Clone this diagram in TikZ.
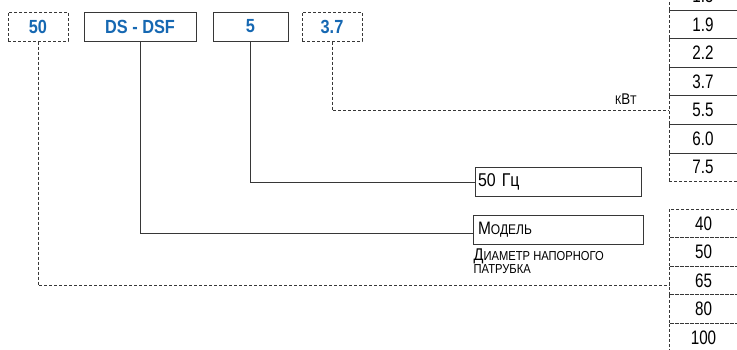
\documentclass[tikz,border=0pt]{standalone}
\usepackage{fontspec}
\setmainfont{Liberation Sans}
\newfontfamily\narrowsans[FakeStretch=0.86]{Liberation Sans}
\newfontfamily\condsans[FakeStretch=0.78]{Liberation Sans}
\usetikzlibrary{positioning}
\definecolor{codeblue}{RGB}{22,104,178}
\definecolor{linegray}{RGB}{55,55,55}
\newcommand{\bigsmall}[4]{{\fontsize{#1}{#1}\selectfont #2}{\fontsize{#3}{#3}\selectfont #4}}

\begin{document}
\begin{tikzpicture}[x=1pt,y=-1pt,
    codebox/.style={draw=linegray,line width=1pt,minimum height=29pt,inner sep=0pt,
      text=codeblue,font=\narrowsans\bfseries\fontsize{19}{19}\selectfont},
    optbox/.style={codebox,dash pattern=on 3pt off 2pt},
    rowbox/.style={draw=linegray,line width=0.9pt,dash pattern=on 3pt off 2pt,
      minimum width=68pt,minimum height=28.6pt,inner sep=0pt,outer sep=0pt,
      font=\condsans\fontsize{19.5}{19.5}\selectfont},
    descbox/.style={draw=linegray,line width=1pt,minimum width=166pt,minimum height=29pt,
      text width=160pt,align=left,inner xsep=2pt,inner ysep=0pt},
    link/.style={draw=linegray,line width=0.9pt},
    dlink/.style={link,dash pattern=on 3pt off 2pt}]
  \useasboundingbox (0,0) rectangle (737,349);
  \clip (0,0) rectangle (737,349);
  % code boxes
  \node[optbox,minimum width=60pt] (d50) at (38,26.5) {50};
  \node[codebox,minimum width=112pt] (dsf) at (140,26.5) {DS - DSF};
  \node[codebox,minimum width=75pt] (five) at (250.5,26.5) {5};
  \node[optbox,minimum width=60pt] (d37) at (332,26.5) {3.7};
  % power column
  \node[rowbox] (r15) at (703,-4.3) {1.5};
  \node[rowbox,below=0pt of r15] (r19) {1.9};
  \node[rowbox,below=0pt of r19] (r22) {2.2};
  \node[rowbox,below=0pt of r22] (r37) {3.7};
  \node[rowbox,below=0pt of r37] (r55) {5.5};
  \node[rowbox,below=0pt of r55] (r60) {6.0};
  \node[rowbox,below=0pt of r60] (r75) {7.5};
  % diameter column
  \node[rowbox] (r40) at (703.5,223.3) {40};
  \node[rowbox,below=0pt of r40] (r50) {50};
  \node[rowbox,below=0pt of r50] (r65) {65};
  \node[rowbox,below=0pt of r65] (r80) {80};
  \node[rowbox,below=0pt of r80] (r100) {100};
  % descriptions
  \node[descbox,font=\narrowsans\fontsize{18.5}{18.5}\selectfont] (hz) at (558,182) {50 Гц};
  \node[descbox,inner xsep=5pt,font=\narrowsans] (model) at (558,229.5) {\bigsmall{18}{М}{14}{ОДЕЛЬ}};
  \node[anchor=north west,align=left,inner sep=0pt,font=\narrowsans\fontsize{13}{13.5}\selectfont]
    (diam) at ([xshift=1pt,yshift=-4pt]model.south west)
    {\bigsmall{17}{Д}{13}{ИАМЕТР НАПОРНОГО}\\ПАТРУБКА};
  \node[anchor=south east,inner sep=0pt,font=\narrowsans] (kw) at ([xshift=-32pt,yshift=5pt]r55.west)
    {{\fontsize{12.5}{12.5}\selectfont К}{\fontsize{15.5}{15.5}\selectfont В}{\fontsize{12.5}{12.5}\selectfont Т}};
  % connectors
  \draw[dlink] (d50.south) |- ([yshift=-5pt]r65.west);
  \draw[link] (dsf.south) |- ([yshift=-3.5pt]model.west);
  \draw[link] (five.south) |- (hz.west);
  \draw[dlink] (d37.south) |- (r55.west);
\end{tikzpicture}
\end{document}
